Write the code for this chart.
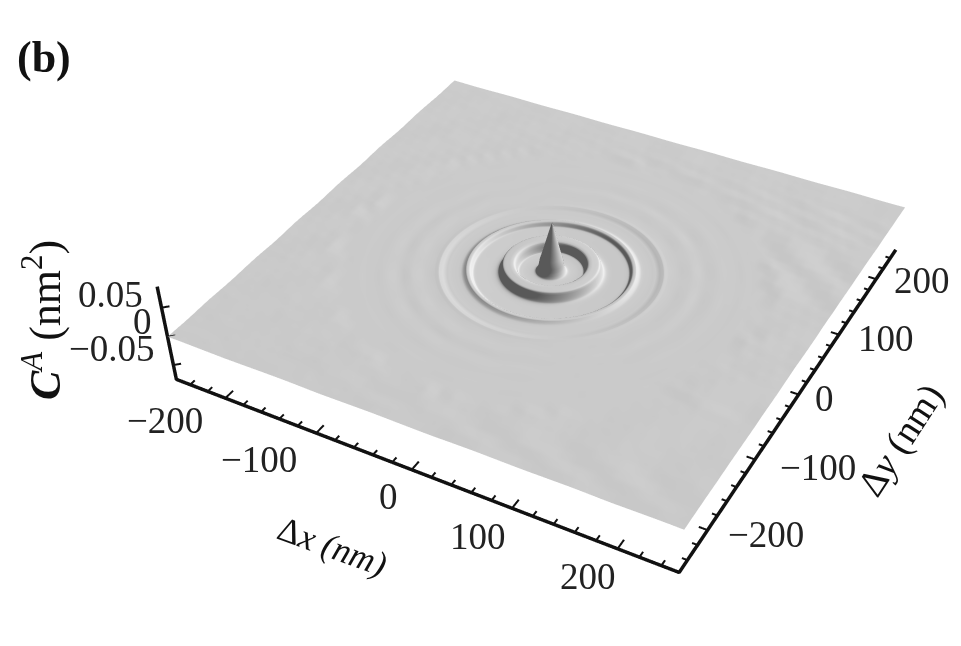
import numpy as np, plotly.graph_objects as go
# ---------- data (z in 1e-3 nm^2; radial section of the central rings)
RADIUS = [0,1,3,5,7,9,11,12,13,14,15,17,21,25,28,30,31,32,33,34,35,36,38,40,43,45,46,47,48,49,50,52,55,59,64,69,71,73,74,75,76,77,79,80,81,83,85,90,94,97,99,101,103,105,106,108,110,115,120,125,130,133,137,140,143,146,150,155,160,165,170,175,180,184,188]
PROFILE = [80,76,64,52,40,28,17,7,2,-1,-2.5,-3,-3.2,-3.2,-3,-2.8,-2,2,7,10,11,11.4,11.6,11.5,11.3,11,9.5,5,1,-2,-3.5,-4.3,-4.5,-4.4,-4.2,-4,-3.9,-3.7,-3,-1,1,2,2.2,2,1,-.6,-1.2,-1.3,-1.3,-1.2,-1.2,-.9,-.3,.2,.4,.2,0,-.15,-.15,.05,.2,.2,.05,-.1,-.15,-.1,.05,.2,.2,.1,.1,.1,.2,.2,.2]
RING_GAIN = [1.0,1.1,1.3,1.4,1.2,.9,.7,.8,1.1,1.3,1.2,.9,.7,.6,.8,1.1,1.4,1.4,1.1,.8,.6,.7,1.0,1.3,1.3,1.0,.8,.7,.9,1.2,1.4,1.2,.9,.7,.7,1.0,1.3,1.4,1.1,.8,.7,.8,1.1,1.3,1.2,1.0,.8,.7,.9,1.2,1.4,1.3,1.0,.7,.6,.8,1.1,1.3,1.3,1.0,.8,.7,.9,1.2,1.3,1.1,.8,.6,.7,1.0,1.3,1.4,1.2,.9,.7,.7,1.0,1.3,1.3,1.0,.7,.6,.8,1.2,1.4,1.3,.9,.7,.7,1.0,1.2,1.3,1.1,.8,.7,.8,1.1,1.4,1.3,1.0,.7,.7,.9,1.2,1.3,1.1,.8,.7,.8,1.1,1.3,1.3,1.0,.8,.7,.8,1.0,1.1,1.0,1.0]
# background ripples, units of 2.2e-4 nm^2; rows run from y=-256 to y=+256
BG_RIPPLE = [
[1,2,1,0,-1,-2,-1,0,1,2,2,1,-1,-2,-1,0,1,2,1,0,-1,-2,-2,0,1,2,1,0,-1,-1,0,1,2,1,-1,-2,-1,0,1,1,0],
[0,1,2,2,0,-1,-2,-1,0,1,1,2,0,-1,-2,-1,1,2,2,1,0,-1,-1,1,2,2,0,-1,-2,-1,1,2,2,0,-1,-1,0,1,2,1,1],
[-2,-1,0,1,2,1,-1,-2,-2,-1,0,1,2,1,0,-2,-2,-1,0,1,2,1,0,-1,-2,-1,0,2,2,1,-1,-2,-1,0,2,2,1,-1,-1,0,1],
[-1,-2,-1,0,1,2,1,-1,-2,-1,0,2,2,1,-1,-2,-1,0,1,2,1,0,-2,-2,-1,1,2,2,0,-1,-2,-1,1,2,2,0,-2,-2,0,1,2],
[1,0,-1,-2,-1,1,2,1,0,-2,-2,0,1,2,1,0,-2,-2,0,2,2,1,-1,-2,0,1,2,1,-1,-2,-1,1,2,1,0,-2,-2,0,1,2,1],
[2,1,1,-1,-2,-1,1,2,2,0,-1,-2,0,2,2,1,-1,-2,-1,1,2,2,0,-2,-2,0,2,2,0,-2,-2,0,1,2,0,-1,-2,-1,1,1,0],
[0,2,2,1,-1,-2,0,1,2,1,-1,-2,-1,1,2,2,0,-2,-2,0,2,2,1,-1,-2,-1,1,2,1,-1,-2,-1,1,2,1,-1,-2,-1,0,1,1],
[-2,-1,1,2,1,-1,-2,-1,1,2,1,-1,-2,-1,1,2,1,-1,-2,-1,1,2,2,0,-2,-1,0,2,2,0,-2,-2,0,2,2,0,-1,-2,-1,1,2],
[-2,-2,-1,1,2,2,-1,-2,-1,1,2,1,-1,-3,-1,1,3,1,-1,-3,-1,1,2,1,-1,-2,-1,1,2,1,-1,-2,-1,1,2,1,0,-2,-2,0,1],
[0,-2,-2,0,2,2,1,-1,-2,0,2,2,0,-2,-2,0,2,2,0,-2,-2,0,2,2,0,-2,-2,0,2,2,0,-2,-2,0,2,2,1,-1,-2,-1,0],
[2,0,-2,-2,0,2,2,0,-2,-2,0,2,2,0,-3,-2,0,2,2,0,-2,-2,0,2,3,0,-2,-2,0,3,2,0,-2,-2,0,2,2,0,-2,-2,-1],
[2,2,0,-2,-2,0,2,3,0,-2,-2,0,3,2,0,-2,-2,0,2,2,0,-2,-2,0,2,2,0,-2,-3,0,2,2,0,-2,-2,0,3,2,0,-2,-2],
[0,2,3,1,-2,-3,0,2,2,0,-3,-2,0,2,2,-1,-2,0,1,1,0,-1,-1,0,1,1,-1,-2,0,2,2,0,-3,-1,1,3,2,0,-2,-2,0],
[-3,-1,2,3,0,-2,-2,0,3,2,-1,-3,-1,2,2,0,-1,0,0,0,0,0,0,0,0,0,0,-1,-1,1,3,1,-1,-3,-1,2,3,1,-1,-2,0],
[-2,-3,-1,2,3,0,-3,-2,1,3,1,-2,-3,0,0,0,0,0,0,0,0,0,0,0,0,0,0,0,0,0,2,2,0,-3,-2,0,3,2,0,-2,-2],
[1,-2,-3,0,3,2,-1,-3,-1,2,3,0,-2,0,0,0,0,0,0,0,0,0,0,0,0,0,0,0,0,0,-1,2,2,0,-3,-2,1,3,1,-1,-3],
[3,1,-2,-3,0,3,2,-1,-3,0,3,2,0,0,0,0,0,0,0,0,0,0,0,0,0,0,0,0,0,0,0,-2,1,3,1,-2,-3,0,3,2,-1],
[2,3,1,-2,-3,0,3,2,-1,-3,-1,2,0,0,0,0,0,0,0,0,0,0,0,0,0,0,0,0,0,0,0,2,-1,2,3,0,-3,-2,1,3,1],
[-1,2,3,0,-3,-2,1,3,1,-2,-3,0,0,0,0,0,0,0,0,0,0,0,0,0,0,0,0,0,0,0,0,0,-2,0,2,3,0,-3,-2,0,3],
[-3,-1,2,3,0,-3,-2,1,3,1,-2,0,0,0,0,0,0,0,0,0,0,0,0,0,0,0,0,0,0,0,0,0,1,-2,-1,2,3,1,-2,-3,0],
[-2,-3,0,3,2,-1,-3,-1,2,3,0,0,0,0,0,0,0,0,0,0,0,0,0,0,0,0,0,0,0,0,0,0,2,1,-2,-1,2,3,0,-3,-2],
[1,-2,-3,0,3,2,-1,-3,0,3,1,0,0,0,0,0,0,0,0,0,0,0,0,0,0,0,0,0,0,0,0,0,1,2,0,-3,-1,2,3,0,-3],
[3,1,-2,-3,1,3,2,-1,-3,0,3,0,0,0,0,0,0,0,0,0,0,0,0,0,0,0,0,0,0,0,0,0,-1,2,2,-1,-3,0,3,2,-1],
[2,3,0,-3,-2,1,3,1,-2,-3,0,1,0,0,0,0,0,0,0,0,0,0,0,0,0,0,0,0,0,0,0,-2,-2,0,3,1,-2,-3,0,3,2],
[-1,2,3,0,-3,-2,1,3,1,-2,-3,-1,0,0,0,0,0,0,0,0,0,0,0,0,0,0,0,0,0,0,0,1,-2,-2,1,3,1,-2,-3,0,3],
[-3,-1,2,3,0,-3,-1,2,3,0,-3,-2,0,0,0,0,0,0,0,0,0,0,0,0,0,0,0,0,0,0,0,2,0,-3,-2,1,3,1,-2,-3,0],
[-2,-3,-1,2,3,0,-3,-1,2,3,0,-3,-2,0,0,0,0,0,0,0,0,0,0,0,0,0,0,0,0,0,2,1,-2,-3,0,3,2,-1,-3,-1,2],
[1,-2,-3,0,3,2,-1,-3,0,3,2,-1,-3,-1,0,0,0,0,0,0,0,0,0,0,0,0,0,0,0,1,2,-1,-3,0,3,2,-1,-3,0,3,2],
[3,1,-2,-3,0,3,1,-2,-3,0,3,2,-1,-3,-1,1,0,0,0,0,0,0,0,0,0,0,0,1,2,2,0,-3,-1,2,3,0,-3,-2,1,3,1],
[2,3,1,-2,-3,0,3,2,-1,-3,0,3,2,-1,-3,-1,2,2,1,0,0,0,0,1,2,2,0,-2,-2,0,2,3,1,-2,-3,0,3,2,-1,-3,0],
[-1,2,3,1,-2,-3,0,3,2,-1,-3,0,3,2,-1,-3,-1,2,3,1,-1,-2,-2,0,2,3,1,-2,-3,0,3,2,-1,-3,0,3,2,-1,-3,-1,2],
[-3,-1,2,3,0,-2,-3,0,3,2,-1,-3,0,3,2,-1,-3,0,3,2,-1,-3,-1,2,3,0,-3,-2,1,3,1,-2,-3,0,3,2,-1,-3,0,3,2],
[-2,-3,-1,2,3,1,-2,-3,0,3,2,-1,-3,0,3,2,-1,-3,0,3,2,-1,-3,0,3,1,-2,-3,0,3,2,-1,-3,0,3,1,-2,-3,0,2,3],
[1,-2,-3,0,3,2,0,-3,-2,1,3,1,-2,-3,0,3,2,-1,-3,0,3,2,-1,-3,0,3,2,-1,-3,0,3,2,-1,-3,-1,2,3,0,-3,-1,1],
[3,1,-2,-3,0,2,3,0,-3,-2,1,3,1,-2,-3,0,3,2,-1,-3,0,3,2,-1,-3,0,3,2,-1,-3,-1,2,3,0,-3,-2,1,3,1,-2,-2],
[2,3,1,-2,-3,-1,2,3,0,-3,-2,1,3,2,-1,-3,-1,2,3,0,-2,-3,0,3,2,-1,-3,-1,2,3,1,-2,-3,0,3,2,-1,-3,0,2,1],
[0,2,3,0,-2,-3,-1,2,3,1,-2,-3,0,3,2,-1,-3,-1,2,3,1,-2,-3,0,2,3,0,-2,-3,0,3,2,-1,-3,-1,2,3,0,-2,-2,1],
[-2,0,2,3,1,-2,-3,0,2,3,0,-2,-3,0,2,3,0,-2,-3,-1,2,3,1,-2,-3,0,2,3,1,-2,-3,0,2,3,0,-2,-3,-1,1,2,0],
[-2,-2,0,2,2,0,-2,-2,0,2,3,1,-2,-2,0,2,3,1,-1,-3,-1,1,3,2,-1,-2,0,2,3,0,-2,-3,0,2,3,1,-1,-2,-1,1,1],
[0,-1,-2,0,2,2,0,-2,-2,0,2,2,0,-2,-2,0,2,2,0,-2,-2,0,2,2,0,-2,-2,0,2,2,0,-2,-2,0,2,2,0,-2,-2,0,1],
[1,0,-1,-1,0,1,1,0,-1,-1,0,1,1,0,-1,-1,0,1,1,0,-1,-1,0,1,1,0,-1,-1,0,1,1,0,-1,-1,0,1,1,0,-1,-1,0],
]
X_TICKS=[-200,-100,0,100,200]; Y_TICKS=[-200,-100,0,100,200]; Z_TICKS=[.05,0,-.05]
X_LABELS=["−200","−100","0","100","200"]; Y_LABELS=X_LABELS; Z_LABELS=["0.05","0","−0.05"]
MINOR=[-240,-220,-180,-160,-140,-120,-80,-60,-40,-20,20,40,60,80,120,140,160,180,220,240]
EDGE=256; ZMIN,ZMAX=-.076,.085
W,H=961,1284
E=[1.1,-2.129,1.688]; C=[.101,-.454,-.536]; U=[.008,.017,1]; ZASP=.202
PADX,PADZ=270,.008
# ---------- surfaces
TH=np.radians(np.arange(0,361,3))
r=np.array(RADIUS,float); z=np.array((PROFILE+[.2]*80)[:len(RADIUS)],float)/1000
g=(RING_GAIN+[1.0]*121)[:120]
gain=np.array(g+g[:1],float)
dx=np.outer(r,np.cos(TH)); dy=np.outer(r,np.sin(TH)); dz=np.outer(z,np.ones_like(TH))
dz[r>110]=dz[r>110]*gain
G=np.linspace(-EDGE,EDGE,41)
bg=np.array([(row+[0]*41)[:41] for row in BG_RIPPLE],float)
XX,YY=np.meshgrid(G,G); rr=np.hypot(XX,YY)
bg=np.where(rr<205,np.minimum(bg,-2),bg)*2.2e-4
bg[rr<160]=np.nan
scale=[[0,'#ffffff'],[1,'#ffffff']]
light=dict(ambient=.35,diffuse=.6,specular=0,roughness=1,fresnel=0)
lp=dict(x=1800,y=360,z=.7)
fig=go.Figure()
fig.add_surface(x=G,y=G,z=bg,surfacecolor=np.zeros_like(bg),colorscale=scale,showscale=False,lighting=light,lightposition=lp,hoverinfo='skip')
fig.add_surface(x=dx,y=dy,z=dz,surfacecolor=np.zeros_like(dz),colorscale=scale,showscale=False,lighting=light,lightposition=lp,hoverinfo='skip')
def lines(P,w):
    fig.add_scatter3d(x=[q[0] for q in P],y=[q[1] for q in P],z=[q[2] for q in P],mode='lines',line=dict(color='#111',width=w),hoverinfo='skip',showlegend=False)
lines([(-EDGE,-EDGE,ZMAX),(-EDGE,-EDGE,ZMIN),(EDGE,-EDGE,ZMIN),(EDGE,EDGE,ZMIN)],7)
T=[]
for v in X_TICKS: T+=[(v,-EDGE,ZMIN),(v,-EDGE+12,ZMIN),(None,None,None)]
for v in Y_TICKS: T+=[(EDGE,v,ZMIN),(EDGE-8,v,ZMIN),(None,None,None)]
for v in Z_TICKS: T+=[(-EDGE,-EDGE,v),(-EDGE+5,-EDGE+5,v),(None,None,None)]
for v in MINOR: T+=[(v,-EDGE,ZMIN),(v,-EDGE+7,ZMIN),(None,None,None),(EDGE,v,ZMIN),(EDGE-5,v,ZMIN),(None,None,None)]
lines(T,4)
F=dict(family="Liberation Serif",size=37,color="#222")
XS=[(-60,-22),(-57,-26),(-23,-27),(-34,-28),(-30,-28)]
YS=[(58,-4),(63,-8),(26,-4),(47,-4),(46,-1)]
ZS=[(-51,13),(-25,15),(-61,17)]
ann=[]
for v,l,s in zip(X_TICKS,X_LABELS,XS): ann.append(dict(x=v,y=-EDGE,z=ZMIN,text=l,showarrow=False,font=F,xshift=s[0],yshift=s[1]))
for v,l,s in zip(Y_TICKS,Y_LABELS,YS): ann.append(dict(x=EDGE,y=v,z=ZMIN,text=l,showarrow=False,font=F,xshift=s[0],yshift=s[1]))
for v,l,s in zip(Z_TICKS,Z_LABELS,ZS): ann.append(dict(x=-EDGE,y=-EDGE,z=v,text=l,showarrow=False,font=F,xshift=s[0],yshift=s[1]))
def pa(px,py,text,size,angle=0):
    return dict(xref='paper',yref='paper',x=px/W,y=1-py/H,xanchor='center',yanchor='middle',text=text,showarrow=False,textangle=angle,font=dict(family="Liberation Serif",size=size,color="#111"))
zr=ZMAX-ZMIN
fig.update_layout(width=W,height=H,margin=dict(l=0,r=0,t=0,b=0),autosize=False,paper_bgcolor='white',showlegend=False,
  annotations=[pa(44,58,"<b>(b)</b>",44),pa(42,320,"<b><i>C</i></b><sup><i>A</i></sup> (nm<sup>2</sup>)",44,-90),
   pa(332,546,"Δ<i>x</i> <i>(nm)</i>",35,20),pa(900,440,"Δ<i>y</i> (nm)",38,-57)],
  scene=dict(domain=dict(x=[0,1],y=[0,1]),aspectmode='manual',dragmode='orbit',aspectratio=dict(x=PADX/EDGE,y=PADX/EDGE,z=ZASP*(zr+2*PADZ)/zr),
    xaxis=dict(visible=False,range=[-PADX,PADX]),yaxis=dict(visible=False,range=[-PADX,PADX]),zaxis=dict(visible=False,range=[ZMIN-PADZ,ZMAX+PADZ]),
    camera=dict(eye=dict(x=E[0],y=E[1],z=E[2]),center=dict(x=C[0],y=C[1],z=C[2]),up=dict(x=U[0],y=U[1],z=U[2])),
    annotations=ann))
fig.write_html("out.html",config=dict(displayModeBar=False),post_script="document.body.style.margin='0';document.documentElement.style.overflow='hidden';document.body.style.overflow='hidden';")
